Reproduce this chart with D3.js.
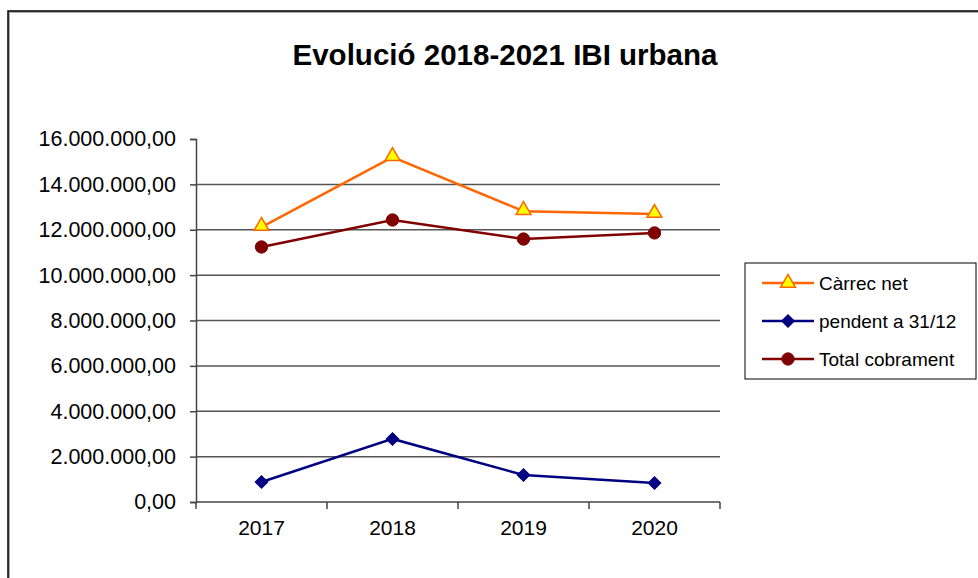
<!DOCTYPE html>
<html>
<head>
<meta charset="utf-8">
<script src="https://cdn.jsdelivr.net/npm/d3@7"></script>
<style>
  body { margin: 0; background: #fff; }
  svg text { font-family: "Liberation Sans", Arial, sans-serif; fill: #000; }
</style>
</head>
<body>
<div id="chart"></div>
<script>
var years = ["2017", "2018", "2019", "2020"];
var carrecNet = [12120000, 15200000, 12820000, 12690000];
var pendent = [880000, 2780000, 1190000, 840000];
var totalCobrament = [11240000, 12430000, 11590000, 11860000];
var yTicks = [0, 2000000, 4000000, 6000000, 8000000, 10000000, 12000000, 14000000, 16000000];

var series = [
	{name: "Càrrec net", values: carrecNet, color: "#ff6600", marker: "triangle"},
	{name: "pendent a 31/12", values: pendent, color: "#000080", marker: "diamond"},
	{name: "Total cobrament", values: totalCobrament, color: "#800000", marker: "circle"}
];

var W = 978, H = 578;
var plot = {left: 196, right: 720, top: 139, bottom: 502};

var svg = d3.select("#chart").append("svg")
	.attr("width", W)
	.attr("height", H);

// outer chart frame (runs off the page on right and bottom)
svg.append("rect")
	.attr("x", 9).attr("y", 12)
	.attr("width", 1000).attr("height", 600)
	.attr("fill", "none")
	.attr("stroke", "#aaa")
	.attr("stroke-width", 2);
svg.append("rect")
	.attr("x", 8).attr("y", 11)
	.attr("width", 1000).attr("height", 600)
	.attr("fill", "none")
	.attr("stroke", "#000")
	.attr("stroke-width", 1.5);

svg.append("text")
	.attr("x", 505).attr("y", 65)
	.attr("text-anchor", "middle")
	.attr("textLength", 425)
	.attr("lengthAdjust", "spacingAndGlyphs")
	.style("font-size", "29px")
	.style("font-weight", "bold")
	.text("Evolució 2018-2021 IBI  urbana");

var x = d3.scaleBand().domain(years).range([plot.left, plot.right]);
var y = d3.scaleLinear().domain([0, 16000000]).range([plot.bottom, plot.top]);

var fmt = function(v) {
	return d3.format(",.2f")(v).replace(/,/g, "#").replace(".", ",").replace(/#/g, ".");
};

// gridlines
svg.append("g")
	.selectAll("line")
	.data(yTicks.filter(function(d) { return d > 0 && d < 16000000; }))
  .enter().append("line")
	.attr("x1", plot.left).attr("x2", plot.right)
	.attr("y1", function(d) { return y(d); })
	.attr("y2", function(d) { return y(d); })
	.attr("stroke", "#555")
	.attr("stroke-width", 1.5);

// y axis
var yAxis = svg.append("g")
	.attr("transform", "translate(" + plot.left + ",0)")
	.call(d3.axisLeft(y).tickValues(yTicks).tickFormat(fmt).tickSize(6).tickPadding(14));
yAxis.select(".domain").attr("stroke", "#444").attr("stroke-width", 1.5);
yAxis.selectAll(".tick line").attr("stroke", "#444").attr("stroke-width", 1.5);
yAxis.selectAll("text")
	.style("font-size", "21.5px")
	.style("font-family", "'Liberation Sans', Arial, sans-serif")
	.attr("fill", "#111");

// x axis with ticks between categories
var xAxis = svg.append("g")
	.attr("transform", "translate(0," + plot.bottom + ")");
xAxis.append("line")
	.attr("x1", plot.left).attr("x2", plot.right)
	.attr("stroke", "#444").attr("stroke-width", 1.5);
xAxis.selectAll(".xt")
	.data(years.concat(["end"]))
  .enter().append("line")
	.attr("class", "xt")
	.attr("x1", function(d, i) { return plot.left + i * x.step(); })
	.attr("x2", function(d, i) { return plot.left + i * x.step(); })
	.attr("y1", 0).attr("y2", 7)
	.attr("stroke", "#444").attr("stroke-width", 1.5);
xAxis.selectAll("text")
	.data(years)
  .enter().append("text")
	.attr("x", function(d) { return x(d) + x.bandwidth() / 2; })
	.attr("y", 33)
	.attr("text-anchor", "middle")
	.attr("fill", "#111")
	.style("font-size", "21px")
	.text(function(d) { return d; });

var cx = function(d, i) { return x(years[i]) + x.bandwidth() / 2; };
var line = d3.line()
	.x(function(d, i) { return cx(d, i); })
	.y(function(d) { return y(d); });

var symbols = {
	triangle: d3.symbol().type(d3.symbolTriangle).size(95),
	diamond: d3.symbol().type(d3.symbolSquare).size(80),
	circle: d3.symbol().type(d3.symbolCircle).size(120)
};

function drawMarker(g, s) {
	g.append("path")
		.attr("d", symbols[s.marker]())
		.attr("transform", s.marker === "diamond" ? "rotate(45)" : null)
		.attr("fill", s.marker === "triangle" ? "#ffff00" : s.color)
		.attr("stroke", s.color)
		.attr("stroke-width", s.marker === "triangle" ? 1.5 : 1);
}

series.forEach(function(s) {
	var g = svg.append("g");
	g.append("path")
		.datum(s.values)
		.attr("d", line)
		.attr("fill", "none")
		.attr("stroke", s.color)
		.attr("stroke-width", 2.5);
	s.values.forEach(function(v, i) {
		var m = g.append("g")
			.attr("transform", "translate(" + cx(v, i) + "," + (y(v) + (s.marker === "triangle" ? -1 : 0)) + ")");
		drawMarker(m, s);
	});
});

// legend
var legend = svg.append("g").attr("transform", "translate(745,263)");
legend.append("rect")
	.attr("width", 231).attr("height", 116)
	.attr("fill", "#fff")
	.attr("stroke", "#000")
	.attr("stroke-width", 1);
series.forEach(function(s, i) {
	var row = legend.append("g").attr("transform", "translate(0," + (20 + i * 38) + ")");
	row.append("line")
		.attr("x1", 17).attr("x2", 69)
		.attr("stroke", s.color).attr("stroke-width", 2.5);
	var m = row.append("g").attr("transform", "translate(43,0)");
	drawMarker(m, s);
	row.append("text")
		.attr("x", 74).attr("y", 7)
		.style("font-size", "19px")
		.attr("fill", "#111")
		.text(s.name);
});
</script>
</body>
</html>
